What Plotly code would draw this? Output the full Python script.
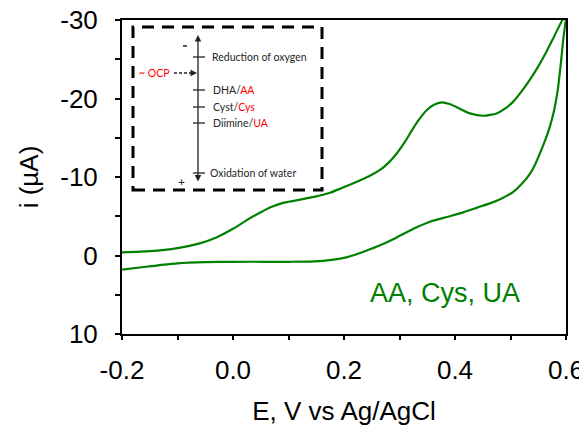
import plotly.graph_objects as go

# Forward (anodic) scan, E in V, i in µA
E_fwd = [-0.2, -0.15, -0.1, -0.06, -0.03, 0.0, 0.027, 0.05, 0.07, 0.09, 0.112, 0.13, 0.148,
         0.175, 0.196, 0.22, 0.245, 0.265, 0.28, 0.295, 0.31, 0.322, 0.335, 0.349, 0.362,
         0.376, 0.39, 0.403, 0.427, 0.451, 0.475, 0.49, 0.505, 0.52, 0.535, 0.55, 0.565,
         0.58, 0.6]
i_fwd = [-0.4, -0.55, -0.95, -1.55, -2.3, -3.4, -4.6, -5.5, -6.2, -6.7, -7.0, -7.25, -7.5,
         -8.0, -8.6, -9.3, -10.1, -10.9, -11.8, -13.0, -14.5, -15.9, -17.3, -18.5, -19.2,
         -19.5, -19.3, -18.9, -18.1, -17.8, -18.1, -18.7, -19.6, -20.9, -22.4, -24.1, -26.0,
         -28.1, -30.8]
# Reverse scan
E_rev = [0.6, 0.595, 0.59, 0.585, 0.578, 0.57, 0.562, 0.553, 0.545, 0.535, 0.52, 0.505,
         0.485, 0.469, 0.44, 0.415, 0.385, 0.355, 0.325, 0.295, 0.265, 0.24, 0.22, 0.2,
         0.178, 0.148, 0.1, 0.058, 0.0, -0.05, -0.1, -0.153, -0.2]
i_rev = [-30.8, -27.5, -24.0, -21.0, -18.3, -16.2, -14.6, -13.0, -11.7, -10.4, -9.1, -8.1,
         -7.3, -6.8, -6.1, -5.5, -4.9, -4.3, -3.4, -2.3, -1.3, -0.6, -0.1, 0.3,
         0.55, 0.75, 0.8, 0.8, 0.8, 0.85, 1.0, 1.4, 1.8]

x_ticks = [-0.2, 0.0, 0.2, 0.4, 0.6]
x_tick_labels = ["-0.2", "0.0", "0.2", "0.4", "0.6"]
y_ticks = [-30, -20, -10, 0, 10]
y_tick_labels = ["-30", "-20", "-10", "0", "10"]

inset_levels = ["Reduction of oxygen", "DHA/AA", "Cyst/Cys", "Diimine/UA", "Oxidation of water"]

GREEN = "#008000"
OFF = 8  # page body margin
W, H = 587 - OFF, 430 - OFF
L, R, T, B = 122 - OFF, 21, 20 - OFF, 430 - 334
PW, PH = W - L - R, H - T - B


def px(x):
    return (x - OFF - L) / PW


def py(y):
    return (H - B - (y - OFF)) / PH


fig = go.Figure()
fig.add_trace(go.Scatter(x=E_fwd + E_rev[1:], y=i_fwd + i_rev[1:], mode="lines",
                         line=dict(color=GREEN, width=2.2, shape="spline", smoothing=0.6),
                         showlegend=False))

font_main = "Liberation Sans, Arial, sans-serif"
fig.update_layout(
    width=W, height=H,
    margin=dict(l=L, r=R, t=T, b=B),
    paper_bgcolor="white", plot_bgcolor="white",
    font=dict(family=font_main, size=26, color="black"),
    xaxis=dict(range=[-0.2, 0.6], tickvals=x_ticks, ticktext=x_tick_labels,
               ticks="outside", ticklen=4, tickwidth=2, tickcolor="black",
               minor=dict(dtick=0.1, tick0=-0.2, ticks="outside", ticklen=4, tickwidth=2, tickcolor="black"),
               showline=True, linecolor="black", linewidth=2, mirror=True,
               showgrid=False, zeroline=False, ticklabelstandoff=8, automargin=False,
               ticklabeloverflow="allow",
               title=dict(text="E, V vs Ag/AgCl", font=dict(size=26), standoff=18)),
    yaxis=dict(range=[10, -30], tickvals=y_ticks, ticktext=y_tick_labels,
               ticks="outside", ticklen=5, tickwidth=2, tickcolor="black",
               minor=dict(dtick=5, tick0=-30, ticks="outside", ticklen=5, tickwidth=2, tickcolor="black"),
               showline=True, linecolor="black", linewidth=2, mirror=True,
               showgrid=False, zeroline=False, ticklabelstandoff=12, automargin=False,
               ticklabeloverflow="allow",
               title=dict(text="i (µA)", font=dict(size=26), standoff=14)),
)

shapes = []
# inset dashed box
shapes.append(dict(type="rect", xref="paper", yref="paper",
                   x0=px(133), x1=px(322), y0=py(190), y1=py(27),
                   line=dict(color="black", width=3, dash="12px,8px"), fillcolor="rgba(0,0,0,0)"))
# level ticks on the vertical arrow
level_y = [57, 90, 107, 123, 173]
for yy in level_y:
    shapes.append(dict(type="line", xref="paper", yref="paper",
                       x0=px(193), x1=px(205), y0=py(yy), y1=py(yy),
                       line=dict(color="#222222", width=1.3)))
# dashed OCP arrow shaft
shapes.append(dict(type="line", xref="paper", yref="paper",
                   x0=px(174), x1=px(192), y0=py(73), y1=py(73),
                   line=dict(color="#222222", width=1.3, dash="3px,2px")))
# small "-" sign
shapes.append(dict(type="line", xref="paper", yref="paper",
                   x0=px(183), x1=px(187), y0=py(46), y1=py(46),
                   line=dict(color="#222222", width=1.5)))
fig.update_layout(shapes=shapes)

ann = []
# double headed vertical arrow
ann.append(dict(xref="paper", yref="paper", x=px(198), y=py(35), ax=0, ay=148,
                axref="pixel", ayref="pixel", text="", showarrow=True,
                arrowhead=2, arrowside="end+start", arrowsize=1, arrowwidth=1.3,
                arrowcolor="#222222"))
# OCP arrowhead
ann.append(dict(xref="paper", yref="paper", x=px(197), y=py(73), ax=-6, ay=0,
                text="", showarrow=True, arrowhead=2, arrowsize=1, arrowwidth=1.3,
                arrowcolor="#222222"))
inset_font = dict(family="Lato, Open Sans, sans-serif", size=10.5, color="#262626")
red_font = dict(family="Lato, Open Sans, sans-serif", size=10.5, color="#ff0000")
label_x = [210, 211, 211, 211, 208]
for name, xx, yy in zip(inset_levels, label_x, level_y):
    if "/" in name:
        a, b = name.split("/")
        txt = f"{a}/<span style='color:#ff0000'>{b}</span>"
    else:
        txt = name
    ann.append(dict(xref="paper", yref="paper", x=px(xx), y=py(yy), text=txt,
                    showarrow=False, xanchor="left", yanchor="middle", font=inset_font))
ann.append(dict(xref="paper", yref="paper", x=px(172), y=py(73), text="~ OCP",
                showarrow=False, xanchor="right", yanchor="middle", font=red_font))
ann.append(dict(xref="paper", yref="paper", x=px(181), y=py(181), text="+",
                showarrow=False, xanchor="center", yanchor="middle",
                font=dict(family="Lato, Open Sans, sans-serif", size=12, color="#222222")))
# analyte label
ann.append(dict(xref="paper", yref="paper", x=px(445), y=py(293), text="AA, Cys, UA",
                showarrow=False, xanchor="center", yanchor="middle",
                font=dict(family=font_main, size=27, color=GREEN)))
fig.update_layout(annotations=ann)

fig.write_html("out.html")
